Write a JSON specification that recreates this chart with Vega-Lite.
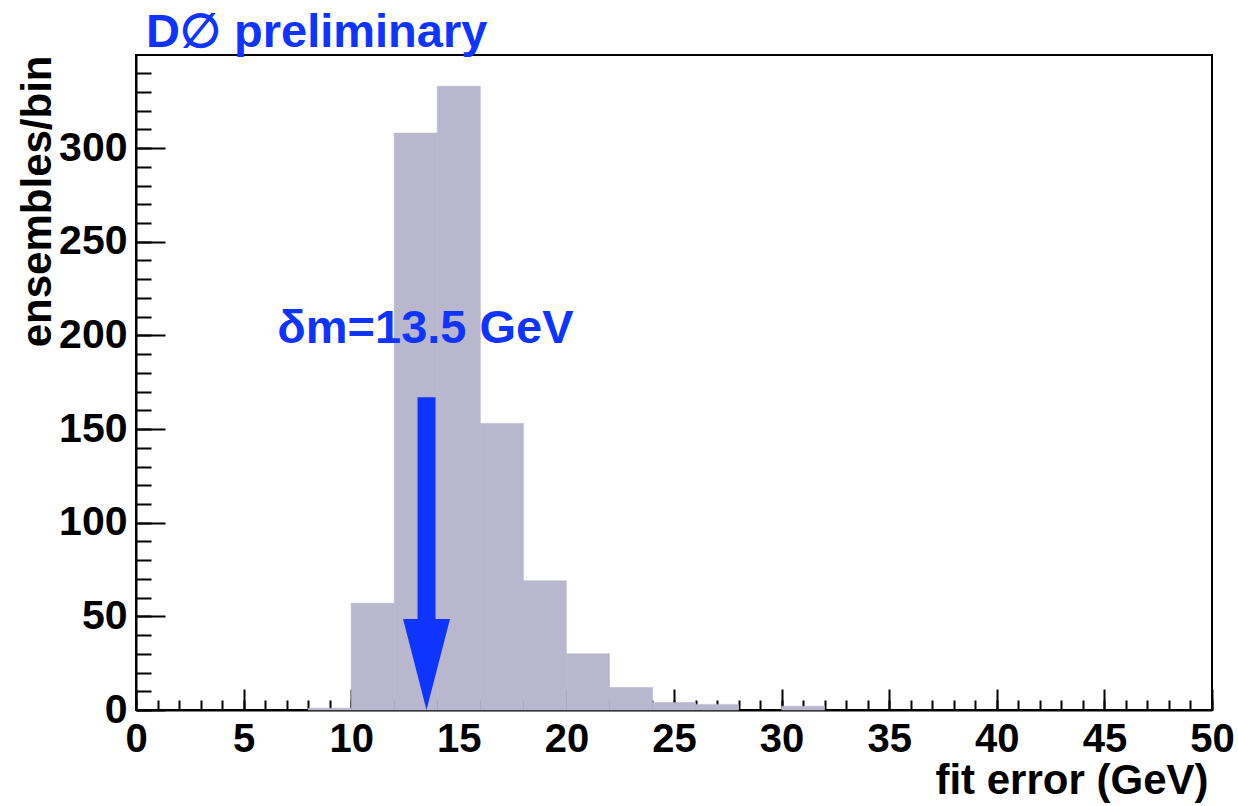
{
  "$schema": "https://vega.github.io/schema/vega-lite/v6.json",
  "width": 1076,
  "height": 655,
  "autosize": {"type": "none"},
  "padding": {"left": 136, "top": 55, "right": 26, "bottom": 96},
  "background": "white",
  "config": {
    "view": {"stroke": "black", "strokeWidth": 2},
    "axis": {"grid": false, "tickColor": "black", "domainColor": "black", "labelColor": "black", "titleColor": "black"}
  },
  "title": {
    "text": "D∅ preliminary",
    "anchor": "start",
    "frame": "group",
    "color": "#1034ff",
    "font": "Liberation Sans",
    "fontSize": 47,
    "fontWeight": "bold",
    "baseline": "alphabetic",
    "offset": 5,
    "dx": 10,
    "dy": 44
  },
  "datasets": {
    "hist": [
      {"lo": 8, "hi": 10, "n": 1},
      {"lo": 10, "hi": 12, "n": 57},
      {"lo": 12, "hi": 14, "n": 308},
      {"lo": 14, "hi": 16, "n": 333},
      {"lo": 16, "hi": 18, "n": 153},
      {"lo": 18, "hi": 20, "n": 69},
      {"lo": 20, "hi": 22, "n": 30},
      {"lo": 22, "hi": 24, "n": 12},
      {"lo": 24, "hi": 26, "n": 4},
      {"lo": 26, "hi": 28, "n": 3},
      {"lo": 30, "hi": 32, "n": 2}
    ],
    "arrow": [{"x": 13.5, "y": 48.6, "y2": 167, "tip": 0}],
    "label": [{"x": 13.45, "y": 196, "text": "δm=13.5 GeV"}]
  },
  "layer": [
    {
      "data": {"name": "hist"},
      "mark": {"type": "rect", "color": "#b9b7cd", "stroke": "#b9b7cd", "strokeWidth": 0.6},
      "encoding": {
        "x": {
          "field": "lo", "type": "quantitative",
          "scale": {"domain": [0, 50], "nice": false, "zero": false},
          "axis": {
            "orient": "bottom",
            "values": [0, 5, 10, 15, 20, 25, 30, 35, 40, 45, 50],
            "tickSize": -21, "tickWidth": 2,
            "domainWidth": 2,
            "labelFont": "Liberation Sans", "labelFontWeight": "bold", "labelFontSize": 40,
            "labelPadding": 30, "labelFlush": false, "labelOverlap": false,
            "title": "fit error (GeV)",
            "titleFont": "Liberation Sans", "titleFontWeight": "bold", "titleFontSize": 42,
            "titleAlign": "right", "titleBaseline": "alphabetic", "titleAnchor": "end",
            "titleX": 1072, "titleY": 83
          }
        },
        "x2": {"field": "hi"},
        "y": {
          "field": "n", "type": "quantitative",
          "scale": {"domain": [0, 349.7], "nice": false},
          "axis": {
            "orient": "left",
            "values": [0, 50, 100, 150, 200, 250, 300],
            "tickSize": -29, "tickWidth": 2,
            "domainWidth": 2,
            "labelFont": "Liberation Sans", "labelFontWeight": "bold", "labelFontSize": 41,
            "labelPadding": 38, "labelFlush": false, "labelOverlap": false,
            "title": "ensembles/bin",
            "titleFont": "Liberation Sans", "titleFontWeight": "bold", "titleFontSize": 42,
            "titleAngle": -90, "titleAlign": "right", "titleBaseline": "alphabetic",
            "titleX": -86, "titleY": 0
          }
        }
      }
    },
    {
      "data": {"name": "arrow"},
      "mark": {"type": "rule", "color": "#1034ff", "strokeWidth": 18, "strokeCap": "butt"},
      "encoding": {
        "x": {
          "field": "x", "type": "quantitative",
          "scale": {"domain": [0, 50], "nice": false, "zero": false},
          "axis": {
            "orient": "bottom",
            "values": [0,1,2,3,4,5,6,7,8,9,10,11,12,13,14,15,16,17,18,19,20,21,22,23,24,25,26,27,28,29,30,31,32,33,34,35,36,37,38,39,40,41,42,43,44,45,46,47,48,49,50],
            "tickSize": -10, "tickWidth": 2,
            "domain": false, "labels": false, "title": null
          }
        },
        "y": {
          "field": "y", "type": "quantitative",
          "scale": {"domain": [0, 349.7], "nice": false},
          "axis": {
            "orient": "left",
            "values": [0,10,20,30,40,50,60,70,80,90,100,110,120,130,140,150,160,170,180,190,200,210,220,230,240,250,260,270,280,290,300,310,320,330,340],
            "tickSize": -15, "tickWidth": 2,
            "domain": false, "labels": false, "title": null
          }
        },
        "y2": {"field": "y2"}
      }
    },
    {
      "data": {"name": "arrow"},
      "mark": {"type": "point", "shape": "M -0.516 -2 L 0.516 -2 L 0 0 Z", "size": 8281, "filled": true, "fill": "#1034ff", "opacity": 1, "strokeWidth": 0},
      "encoding": {
        "x": {"field": "x", "type": "quantitative", "scale": {"domain": [0, 50], "nice": false, "zero": false}, "axis": null},
        "y": {"field": "tip", "type": "quantitative", "scale": {"domain": [0, 349.7], "nice": false}, "axis": null}
      }
    },
    {
      "data": {"name": "label"},
      "mark": {"type": "text", "color": "#1034ff", "font": "Liberation Sans", "fontWeight": "bold", "fontSize": 47, "align": "center", "baseline": "alphabetic"},
      "encoding": {
        "x": {"field": "x", "type": "quantitative", "scale": {"domain": [0, 50], "nice": false, "zero": false}, "axis": null},
        "y": {"field": "y", "type": "quantitative", "scale": {"domain": [0, 349.7], "nice": false}, "axis": null},
        "text": {"field": "text"}
      }
    }
  ],
  "resolve": {"axis": {"x": "independent", "y": "independent"}}
}
